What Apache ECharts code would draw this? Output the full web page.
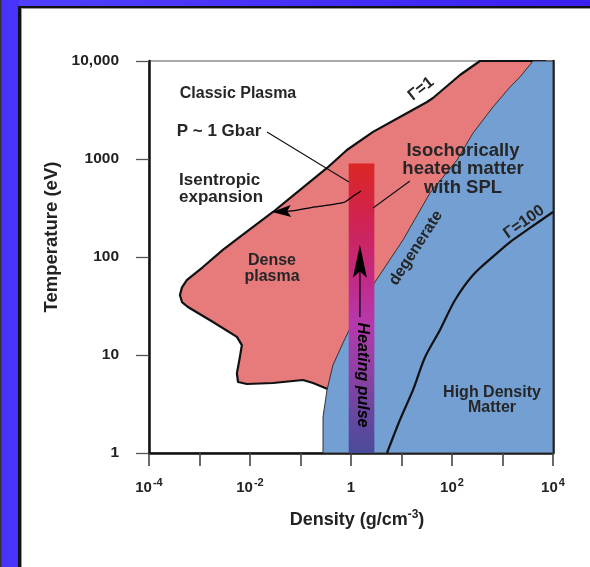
<!DOCTYPE html>
<html>
<head>
<meta charset="utf-8">
<script src="https://cdn.jsdelivr.net/npm/echarts@6/dist/echarts.min.js"></script>
<style>
html,body{margin:0;padding:0;background:#fff;}
#chart{width:590px;height:567px;}
</style>
</head>
<body>
<div id="chart"></div>
<script>
// ---- data: [density g/cm^3, temperature eV] ----
const xTicks = [1e-4, 1e-3, 1e-2, 1e-1, 1, 10, 100, 1000, 10000];
const yTicks = [1, 10, 100, 1000, 10000];

// dense plasma region (bounded above-left by Gamma = 1 line)
const densePlasma = [
  [358,10000],[144,7200],[42,4190],[32,3820],[9.3,2680],[2.73,1890],[0.83,1235],
  [0.335,810],[0.098,483],[0.0285,288],[0.0063,160],[0.0029,118],[0.00117,79],
  [0.00056,58],[0.00045,49],[0.00041,41],[0.00045,34.7],[0.00059,30.9],[0.00185,21.7],
  [0.0055,15.3],[0.0069,12.6],[0.0063,9.5],[0.0055,6.5],[0.0058,5.3],[0.0087,5.06],
  [0.0285,5.18],[0.112,5.56],[0.177,5.18],[0.384,4.4],[3.75,4.4],[6950,10000]
];
// degenerate / high density matter region
const degenerate = [
  [0.279,1],[0.279,2.33],[0.335,4.4],[0.44,7.9],[0.695,13.3],[1.2,23.9],[2.73,51.8],
  [10.7,149],[36.6,450],[126,977],[261,1840],[649,3400],[1410,5430],[2220,6870],
  [4020,10000],[10000,10000],[10000,1]
];
// Gamma = 100 line
const gamma100 = [
  [10000,288],[3510,198],[1410,142],[710,105],[261,65.5],[115,36.4],[57.8,18],
  [29.2,9.5],[16.9,4.4],[9.3,2.17],[5.16,1]
];
// heating pulse bar: [density range], [temperature range]
const heatBarX = [0.9, 2.9];
const heatBarY = [1, 900];
// heating arrow (tail -> tip)
const heatArrow = [[1.5,24.4],[1.5,133]];
// isentropic expansion arrow (start -> tip)
const isentropic = [[1.58,471],[1.05,410],[0.76,364],[0.48,347],[0.194,324],[0.068,295],[0.0273,288]];
// annotation leader lines
const gbarLeader = [[0.0217,1890],[0.91,583]];
const isoLeader = [[14.7,597],[2.73,316]];

const RED = '#E77B7C', BLUE = '#739FD3', TXT = '#262626';
const FONT = '"Liberation Sans", Arial, sans-serif';

const chart = echarts.init(document.getElementById('chart'));

function polygonSeries(pts, style, z) {
  return {
    type: 'custom', coordinateSystem: 'cartesian2d', z: z, silent: true,
    data: pts, encode: {x: 0, y: 1},
    renderItem: function (params, api) {
      if (params.dataIndex !== 0) return;
      return {type: 'polygon', shape: {points: pts.map(p => api.coord(p))}, style: style};
    }
  };
}
function polylineSeries(pts, style, z, smooth) {
  return {
    type: 'custom', coordinateSystem: 'cartesian2d', z: z, silent: true,
    data: pts, encode: {x: 0, y: 1},
    renderItem: function (params, api) {
      if (params.dataIndex !== 0) return;
      return {type: 'polyline', shape: {points: pts.map(p => api.coord(p)), smooth: smooth || 0}, style: style};
    }
  };
}
function arrowSeries(pts, headLen, headHalf, z, smooth) {
  return {
    type: 'custom', coordinateSystem: 'cartesian2d', z: z, silent: true,
    data: pts, encode: {x: 0, y: 1},
    renderItem: function (params, api) {
      if (params.dataIndex !== 0) return;
      const px = pts.map(p => api.coord(p));
      const tip = px[px.length - 1], prev = px[px.length - 2];
      const dx = tip[0] - prev[0], dy = tip[1] - prev[1];
      const len = Math.hypot(dx, dy); const ux = dx / len, uy = dy / len;
      const bx = tip[0] - ux * headLen, by = tip[1] - uy * headLen;
      const nx = -uy, ny = ux;
      const line = px.slice(0, -1).concat([[tip[0] - ux * headLen * 0.7, tip[1] - uy * headLen * 0.7]]);
      return {type: 'group', children: [
        {type: 'polyline', shape: {points: line, smooth: smooth || 0}, style: {stroke: '#000', lineWidth: 1.3, fill: null}},
        {type: 'polygon', shape: {points: [tip, [bx + nx * headHalf, by + ny * headHalf],
          [tip[0] - ux * headLen * 0.8, tip[1] - uy * headLen * 0.8], [bx - nx * headHalf, by - ny * headHalf]]},
          style: {fill: '#000'}}
      ]};
    }
  };
}

const barGrad = new echarts.graphic.LinearGradient(0, 0, 0, 1, [
  {offset: 0, color: '#dc2624'}, {offset: 0.2, color: '#cf2353'}, {offset: 0.4, color: '#c22a86'},
  {offset: 0.55, color: '#b539ad'}, {offset: 0.7, color: '#9440a6'}, {offset: 0.85, color: '#6c469f'},
  {offset: 1, color: '#4a4b9a'}
]);

const heatBar = {
  type: 'custom', coordinateSystem: 'cartesian2d', z: 5, silent: true,
  data: [[heatBarX[0], heatBarY[0], heatBarX[1], heatBarY[1]]], encode: {x: [0, 2], y: [1, 3]},
  renderItem: function (params, api) {
    const a = api.coord([api.value(0), api.value(1)]);
    const b = api.coord([api.value(2), api.value(3)]);
    return {type: 'rect', shape: {x: a[0], y: b[1], width: b[0] - a[0], height: a[1] - b[1]}, style: {fill: barGrad}};
  }
};

function txt(text, x, y, size, opts) {
  opts = opts || {};
  return {
    type: 'text', x: x, y: y, rotation: opts.rot || 0, z: 100,
    style: {text: text, fill: opts.color || TXT, font: (opts.italic ? 'italic ' : '') + 'bold ' + size + 'px ' + FONT,
      textAlign: opts.align || 'center', textVerticalAlign: 'middle', align: opts.align || 'center', verticalAlign: 'middle',
      lineHeight: opts.lh || size + 2, rich: opts.rich}
  };
}

const frame = [
  {type: 'rect', shape: {x: 0, y: 0, width: 19, height: 567}, style: {fill: '#4634fb'}, z: 1},
  {type: 'rect', shape: {x: 0, y: 0, width: 1.5, height: 567}, style: {fill: '#333'}, z: 2},
  {type: 'rect', shape: {x: 19, y: 0, width: 571, height: 6}, style: {fill: new echarts.graphic.LinearGradient(0, 0, 1, 0, [{offset: 0, color: '#5040fc'}, {offset: 1, color: '#3a1ff0'}])}, z: 1},
  {type: 'rect', shape: {x: 18, y: 6, width: 572, height: 2}, style: {fill: '#111'}, z: 2},
  {type: 'rect', shape: {x: 18, y: 6, width: 3, height: 561}, style: {fill: '#111'}, z: 2},
  {type: 'rect', shape: {x: 21, y: 8, width: 569, height: 1}, style: {fill: '#999'}, z: 2},
  {type: 'rect', shape: {x: 21, y: 8, width: 1, height: 559}, style: {fill: '#999'}, z: 2}
];

const labels = [
  txt('Classic Plasma', 238, 94, 16),
  txt('P ~ 1 Gbar', 219, 131, 17),
  txt('Isentropic\nexpansion', 179, 189, 17, {align: 'left', lh: 17}),
  txt('Isochorically\nheated matter\nwith SPL', 463, 169, 18.5, {lh: 18.5}),
  txt('Dense\nplasma', 272, 269, 16, {lh: 16}),
  txt('High Density\nMatter', 492, 400, 16, {lh: 15.5}),
  txt('degenerate', 416, 248, 16, {rot: 57 * Math.PI / 180}),
  txt('Γ=1', 421, 89, 16, {rot: 38 * Math.PI / 180}),
  txt('Γ=100', 524, 222, 16, {rot: 35 * Math.PI / 180}),
  txt('Heating pulse', 362, 375, 16, {rot: -Math.PI / 2, italic: true, color: '#000'}),
  txt('Temperature (eV)', 52, 237, 18.5, {rot: Math.PI / 2, color: '#222'}),
  txt('{a|Density (g/cm}{s|-3}{a|)}', 357, 519, 18, {color: '#222', rich: {
    a: {font: 'bold 18px ' + FONT, fill: '#222', color: '#222', lineHeight: 20, verticalAlign: 'bottom'},
    s: {font: 'bold 12px ' + FONT, fill: '#222', color: '#222', lineHeight: 20, verticalAlign: 'top'}
  }})
];

const option = {
  animation: false,
  backgroundColor: '#fff',
  grid: {left: 149, top: 61, width: 404, height: 392, show: true, borderColor: '#555', borderWidth: 1, containLabel: false},
  xAxis: {
    type: 'log', logBase: 10, min: xTicks[0], max: xTicks[xTicks.length - 1], splitNumber: 8,
    axisLine: {show: true, onZero: false, lineStyle: {color: '#111', width: 2.5}},
    axisTick: {show: true, length: 13, lineStyle: {color: '#444', width: 1.6}},
    minorTick: {show: false}, splitLine: {show: false},
    axisLabel: {
      margin: 24,
      formatter: function (v) {
        const e = Math.round(Math.log10(v));
        if (e % 2 !== 0) return '';
        if (e === 0) return '{b|1}';
        return '{b|10}{s|' + e + '}';
      },
      rich: {
        b: {fontFamily: FONT, fontWeight: 'bold', fontSize: 15, color: '#222', lineHeight: 18, verticalAlign: 'bottom'},
        s: {fontFamily: FONT, fontWeight: 'bold', fontSize: 11, color: '#222', lineHeight: 18, verticalAlign: 'top', padding: [0, 0, 0, 1]}
      }
    }
  },
  yAxis: [{
    type: 'log', logBase: 10, min: yTicks[0], max: yTicks[yTicks.length - 1], splitNumber: 4,
    axisLine: {show: true, onZero: false, lineStyle: {color: '#111', width: 2.5}},
    axisTick: {show: true, length: 13, lineStyle: {color: '#555', width: 1.3}},
    minorTick: {show: false}, splitLine: {show: false},
    axisLabel: {
      margin: 30, fontFamily: FONT, fontWeight: 'bold', fontSize: 15.5, color: '#222',
      formatter: function (v) { const r = Math.round(v); return r === 10000 ? '10,000' : String(r); }
    }
  }, {
    type: 'log', logBase: 10, min: yTicks[0], max: yTicks[yTicks.length - 1], position: 'right',
    axisLine: {show: true, onZero: false, lineStyle: {color: '#111', width: 2.5}},
    axisTick: {show: false}, axisLabel: {show: false}, splitLine: {show: false}
  }],
  graphic: frame.concat(labels),
  series: [
    polygonSeries(densePlasma, {fill: RED, stroke: '#111', lineWidth: 2.2, lineJoin: 'round'}, 2),
    polygonSeries(degenerate, {fill: BLUE, stroke: '#333', lineWidth: 1, lineJoin: 'round'}, 3),
    polylineSeries(gamma100, {stroke: '#111', lineWidth: 2.2, fill: null, lineJoin: 'round'}, 4, 0.3),
    heatBar,
    arrowSeries(heatArrow, 33, 7, 6),
    arrowSeries(isentropic, 19, 6, 6, 0.3),
    polylineSeries(gbarLeader, {stroke: '#111', lineWidth: 1.1, fill: null}, 6),
    polylineSeries(isoLeader, {stroke: '#111', lineWidth: 1.1, fill: null}, 6)
  ]
};
chart.setOption(option);
</script>
</body>
</html>
